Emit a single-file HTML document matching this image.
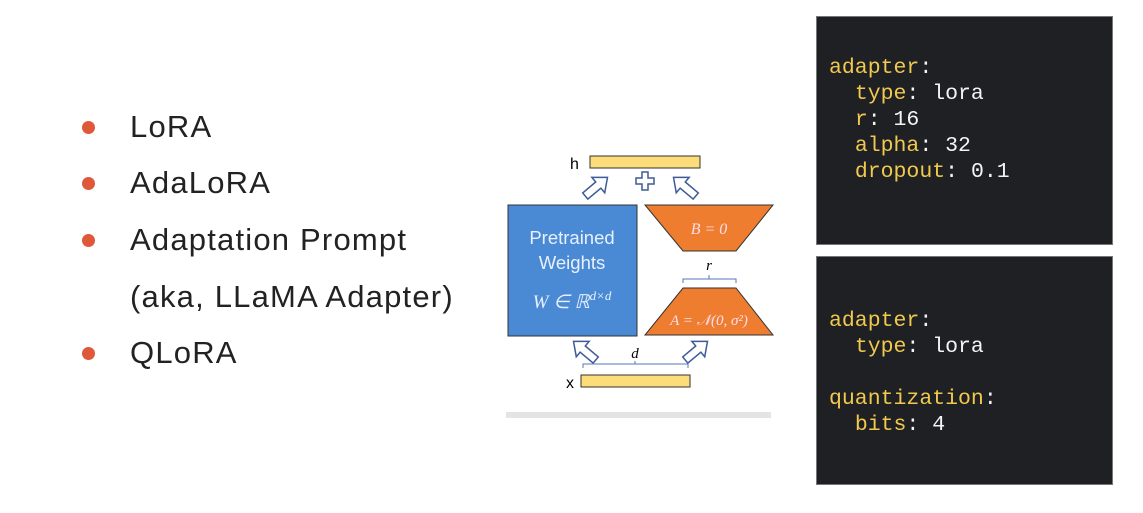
<!DOCTYPE html>
<html><head><style>
body{margin:0;width:1143px;height:513px;background:#fff;position:relative;overflow:hidden;font-family:"Liberation Sans",sans-serif}
.b{position:absolute;left:130px;font-size:31px;letter-spacing:1.2px;color:#222;line-height:34px}
.d{position:absolute;left:82px;width:13px;height:13px;border-radius:50%;background:#e0583a}
.code{position:absolute;left:816px;width:297px;background:#1f2023;border:1px solid #777;box-sizing:border-box}
.code pre{margin:0;position:absolute;left:12px;font-family:"Liberation Mono",monospace;font-size:21.5px;line-height:26px;color:#f4f4f4}
.k{color:#f0c94e}
</style></head><body>
<div class="d" style="top:121px"></div><div class="b" style="top:110px">LoRA</div>
<div class="d" style="top:177px"></div><div class="b" style="top:166px">AdaLoRA</div>
<div class="d" style="top:234px"></div><div class="b" style="top:223px">Adaptation Prompt</div>
<div class="b" style="top:280px">(aka, LLaMA Adapter)</div>
<div class="d" style="top:347px"></div><div class="b" style="top:336px">QLoRA</div>

<svg style="position:absolute;left:0;top:0" width="1143" height="513">
<defs><path id="ar" d="M-4,14 L-4,-3 L-10,-3 L0,-15 L10,-3 L4,-3 L4,14 Z" fill="#fff" stroke="#3d5a99" stroke-width="1.5"/></defs>
<text x="570" y="169" font-size="16" font-family="Liberation Sans">h</text>
<rect x="590" y="156" width="110" height="12" fill="#fddc7a" stroke="#333"/>
<use href="#ar" transform="translate(596,187) rotate(50)"/>
<use href="#ar" transform="translate(685,187) rotate(-50)"/>
<path d="M636,178h6v-6h6v6h6v6h-6v6h-6v-6h-6z" fill="#fff" stroke="#3d5a99" stroke-width="1.5"/>
<rect x="508" y="205" width="129" height="131" fill="#4a8ad4" stroke="#333"/>
<text x="572" y="244" font-size="18.5" fill="#e8f0ff" text-anchor="middle">Pretrained</text>
<text x="572" y="269" font-size="18.5" fill="#e8f0ff" text-anchor="middle">Weights</text>
<text x="572" y="308" font-size="19" fill="#e8f0ff" text-anchor="middle" font-family="Liberation Serif" font-style="italic">W ∈ ℝ<tspan font-size="13" dy="-8">d×d</tspan></text>
<polygon points="645,205 773,205 736,251 683,251" fill="#ee7d2f" stroke="#333"/>
<text x="709" y="234" font-size="16" fill="#fde" text-anchor="middle" font-family="Liberation Serif" font-style="italic">B = 0</text>
<text x="709" y="270" font-size="15" text-anchor="middle" font-family="Liberation Serif" font-style="italic">r</text>
<path d="M683,283v-4h53v4M709,279v-4" fill="none" stroke="#5577bb"/>
<polygon points="683,288 736,288 773,335 645,335" fill="#ee7d2f" stroke="#333"/>
<text x="709" y="325" font-size="15" fill="#fde" text-anchor="middle" font-family="Liberation Serif" font-style="italic">A = 𝒩(0, σ²)</text>
<use href="#ar" transform="translate(585,351) rotate(-50)"/>
<use href="#ar" transform="translate(696,351) rotate(50)"/>
<text x="635" y="358" font-size="15" text-anchor="middle" font-family="Liberation Serif" font-style="italic">d</text>
<path d="M583,368v-4h105v4M635,364v-3" fill="none" stroke="#5577bb"/>
<text x="566" y="388" font-size="16">x</text>
<rect x="581" y="375" width="109" height="12" fill="#fddc7a" stroke="#333"/>
<rect x="506" y="412" width="265" height="6" fill="#e4e4e4"/>
</svg>

<div class="code" style="top:16px;height:229px"><pre style="top:38px"><span class="k">adapter</span>:
  <span class="k">type</span>: lora
  <span class="k">r</span>: 16
  <span class="k">alpha</span>: 32
  <span class="k">dropout</span>: 0.1</pre></div>
<div class="code" style="top:256px;height:229px"><pre style="top:51px"><span class="k">adapter</span>:
  <span class="k">type</span>: lora

<span class="k">quantization</span>:
  <span class="k">bits</span>: 4</pre></div>
</body></html>
